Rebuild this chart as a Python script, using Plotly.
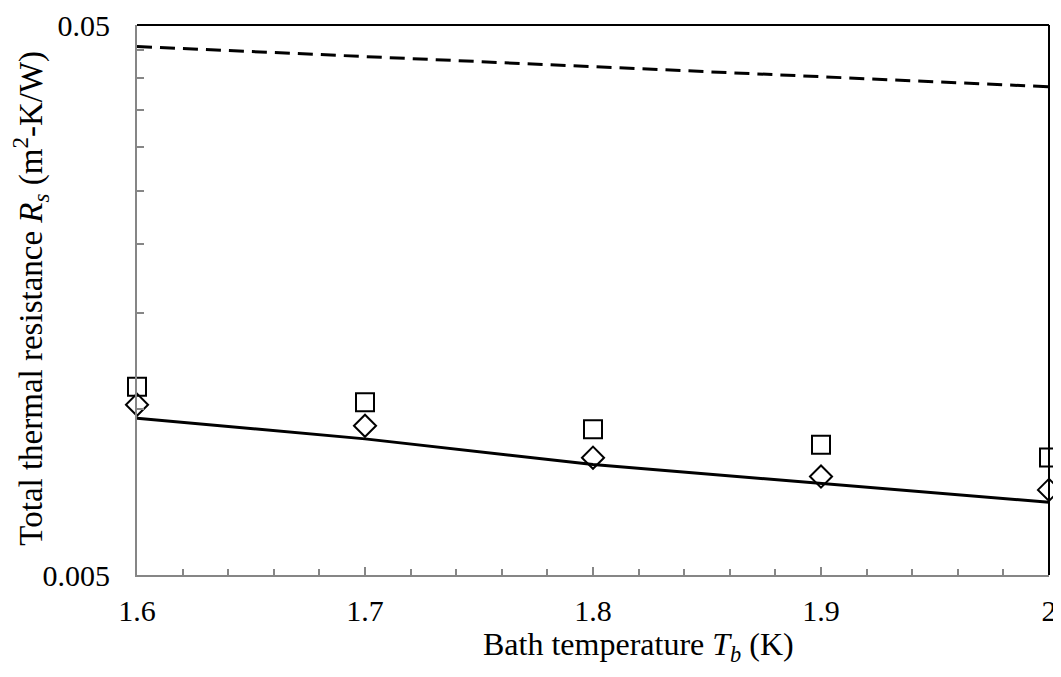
import plotly.graph_objects as go

# Data
T_bath = [1.6, 1.7, 1.8, 1.9, 2.0]
R_square = [0.0110, 0.0103, 0.0092, 0.00863, 0.00818]
R_diamond = [0.0102, 0.00934, 0.00817, 0.00755, 0.00714]
R_solid = [0.00964, 0.00884, 0.00794, 0.00733, 0.00678]
R_dashed = [0.0457, 0.0438, 0.0420, 0.0403, 0.0386]

y_ticks = [0.005, 0.05]
y_ticktext = ["0.005", "0.05"]
x_ticks = [1.6, 1.7, 1.8, 1.9, 2.0]
x_ticktext = ["1.6", "1.7", "1.8", "1.9", "2"]
y_minor = [0.01, 0.015, 0.02, 0.025, 0.03, 0.035, 0.04, 0.045]
x_minor = [1.62, 1.64, 1.66, 1.68, 1.72, 1.74, 1.76, 1.78, 1.82, 1.84, 1.86, 1.88,
           1.92, 1.94, 1.96, 1.98]

x_title = "Bath temperature <i>T<sub>b</sub></i> (K)"
y_title = "Total thermal resistance <i>R<sub>s</sub></i> (m<sup>2</sup>-K/W)"

FONT = "Liberation Serif"
GRAY = "#868686"

fig = go.Figure()
fig.add_trace(go.Scatter(x=T_bath, y=R_dashed, mode="lines",
                         line=dict(color="black", width=3, dash="15px,8px"),
                         showlegend=False, cliponaxis=False))
fig.add_trace(go.Scatter(x=T_bath, y=R_solid, mode="lines",
                         line=dict(color="black", width=3),
                         showlegend=False, cliponaxis=False))
fig.add_trace(go.Scatter(x=T_bath, y=R_square, mode="markers",
                         marker=dict(symbol="square-open", size=18, color="black",
                                     line=dict(width=2, color="black")),
                         showlegend=False, cliponaxis=False))
fig.add_trace(go.Scatter(x=T_bath, y=R_diamond, mode="markers",
                         marker=dict(symbol="diamond-open", size=17, color="black",
                                     line=dict(width=2, color="black")),
                         showlegend=False, cliponaxis=False))

fig.update_layout(
    width=1053, height=661,
    margin=dict(l=129, r=12, t=17, b=94, autoexpand=False),
    paper_bgcolor="white", plot_bgcolor="white",
    font=dict(family=FONT, size=30, color="black"),
    xaxis=dict(
        range=[1.6, 2.0], tickmode="array", tickvals=x_ticks, ticktext=x_ticktext,
        ticks="inside", ticklen=8, tickwidth=1.5, tickcolor=GRAY,
        showline=True, linecolor=GRAY, linewidth=2, showgrid=False, zeroline=False,
        ticklabelstandoff=8, automargin=False,
        minor=dict(tickvals=x_minor, ticks="inside", ticklen=6, tickwidth=1.5,
                   tickcolor=GRAY, showgrid=False),
    ),
    yaxis=dict(
        type="log", range=[-2.30103, -1.30103], tickmode="array",
        tickvals=y_ticks, ticktext=y_ticktext,
        ticks="inside", ticklen=10, tickwidth=1.5, tickcolor=GRAY,
        showline=True, linecolor=GRAY, linewidth=2, showgrid=False, zeroline=False,
        ticklabelstandoff=19, automargin=False,
        minor=dict(tickvals=y_minor, ticks="inside", ticklen=7, tickwidth=1.5,
                   tickcolor=GRAY, showgrid=False),
    ),
    annotations=[
        dict(text=x_title, xref="paper", yref="paper", x=0.5504, y=-0.13,
             xanchor="center", yanchor="middle", showarrow=False,
             font=dict(family=FONT, size=32, color="black")),
        dict(text=y_title, xref="paper", yref="paper", x=-0.117, y=0.503,
             xanchor="center", yanchor="middle", textangle=-90, showarrow=False,
             font=dict(family=FONT, size=33, color="black")),
    ],
    shapes=[
        dict(type="line", xref="paper", yref="paper", x0=0, x1=1, y0=1, y1=1,
             line=dict(color="black", width=2)),
        dict(type="line", xref="paper", yref="paper", x0=1, x1=1, y0=0, y1=1,
             line=dict(color="black", width=2)),
    ],
)

fig.write_html("out.html")
